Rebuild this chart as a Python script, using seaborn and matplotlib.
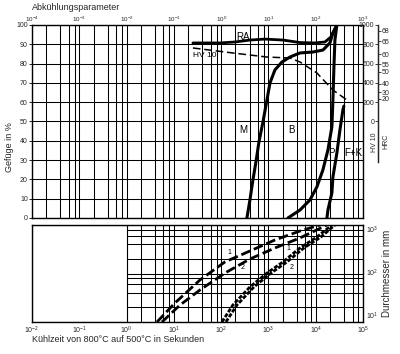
import matplotlib
matplotlib.use("Agg")
import matplotlib.pyplot as plt
import seaborn as sns
from matplotlib.ticker import LogLocator, FixedLocator, NullLocator, NullFormatter, FixedFormatter

sns.set_style("white")
plt.rcParams['font.family'] = ['Liberation Sans', 'DejaVu Sans']
plt.rcParams['mathtext.fontset'] = 'custom'
plt.rcParams['mathtext.rm'] = 'Liberation Sans'
plt.rcParams['mathtext.it'] = 'Liberation Sans'

# ---------------- data (cooling time t8/5 in s) ----------------
m_time = [351, 406, 470, 544, 630, 765, 929, 1076, 1371, 1928, 2849, 4634, 8730, 14200, 19950, 23100, 28000]
m_pct = [0, 9.3, 19.7, 29.0, 39.4, 49.7, 61.1, 69.9, 76.7, 80.8, 83.4, 85.5, 86.0, 87.0, 90.7, 95.9, 100]

ra_time = [25.3, 45.5, 94.4, 196, 406, 843, 2026, 4634, 9620, 15660, 20940, 28000]
ra_pct = [90.7, 90.7, 90.7, 91.2, 92.2, 92.7, 92.2, 90.9, 90.7, 91.2, 93.8, 100]

bp_time = [2584, 4634, 7530, 10590, 14190, 18110, 21990, 23100, 24280, 25470, 28000]
bp_pct = [0, 4.1, 9.3, 16.1, 24.9, 35.2, 47.2, 61.1, 78.2, 92.2, 100]

fk_time = [17270, 18110, 21990, 23100, 28050, 32500, 37600, 39400]
fk_pct = [0, 4.1, 13.0, 21.2, 33.7, 45.6, 56.0, 58.0]

hv_time = [25.3, 177, 929, 2849, 4634, 10590, 23100, 45700]
hv_val = [762, 710, 668, 658, 617, 503, 326, 223]

# diameter vs cooling time
d1_time = [4.39, 10.5, 35.6, 120, 406, 1371, 4634, 12270]
d1_mm = [10, 24.6, 73.5, 173, 291, 491, 751, 1000]
d2_time = [5.6, 13.5, 35.6, 120, 406, 1371, 4634, 17270]
d2_mm = [10, 22.4, 45.7, 102, 199, 336, 540, 1000]
e1_time = [104, 177, 406, 929, 2026, 4634, 10590, 21990]
e1_mm = [10, 22.4, 52.7, 102, 173, 336, 566, 1000]
e2_time = [126, 216, 493, 1130, 2460, 5620, 12880, 25470]
e2_mm = [10, 22.4, 52.7, 102, 173, 336, 566, 1000]

pct_ticks = [0, 10, 20, 30, 40, 50, 60, 70, 80, 90, 100]
hv_ticks = [0, 200, 400, 600, 800, 1000]
hrc_labels = [68, 65, 60, 55, 50, 40, 30, 20]
hrc_hv = [940, 832, 697, 595, 513, 392, 302, 238]
time_ticks = [1e-2, 1e-1, 1e0, 1e1, 1e2, 1e3, 1e4, 1e5]
time_labels = ['$10^{-2}$', '$10^{-1}$', '$10^{0}$', '$10^{1}$', '$10^{2}$', '$10^{3}$', '$10^{4}$', '$10^{5}$']
par_ticks = [1e-4, 1e-3, 1e-2, 1e-1, 1e0, 1e1, 1e2, 1e3]
par_labels = ['$10^{-4}$', '$10^{-3}$', '$10^{-2}$', '$10^{-1}$', '$10^{0}$', '$10^{1}$', '$10^{2}$', '$10^{3}$']
dia_ticks = [10, 100, 1000]
dia_labels = ['$10^{1}$', '$10^{2}$', '$10^{3}$']

K = 'black'
GRID_LW = 0.75
TICK_FS = 5

fig = plt.figure(figsize=(4, 3.54), dpi=100)
ax = fig.add_axes([0.08, 0.3842, 0.8275, 0.5452])
ax2 = fig.add_axes([0.08, 0.0904, 0.8275, 0.274])

# ---------------- main panel ----------------
ax.set_xscale('log')
ax.set_xlim(1e-2, 1e5)
ax.set_ylim(0, 100)
ax.xaxis.set_major_locator(FixedLocator(time_ticks))
ax.xaxis.set_minor_locator(LogLocator(base=10, subs=(2, 4, 6, 8)))
ax.xaxis.set_minor_formatter(NullFormatter())
ax.set_xticklabels([])
ax.set_yticks(pct_ticks)
ax.set_yticklabels([str(v) for v in pct_ticks])
ax.tick_params(axis='x', which='both', length=0)
ax.tick_params(axis='y', length=2, width=0.6, labelsize=TICK_FS, pad=1, color=K)
ax.grid(True, which='both', axis='x', color=K, lw=GRID_LW)
ax.grid(True, which='major', axis='y', color=K, lw=GRID_LW)
ax.set_axisbelow(True)
for s in ax.spines.values():
    s.set_color(K)
    s.set_linewidth(1.0)

sns.lineplot(x=ra_time, y=ra_pct, ax=ax, color=K, lw=2.0, sort=False, estimator=None)
sns.lineplot(x=m_time, y=m_pct, ax=ax, color=K, lw=2.2, sort=False, estimator=None)
sns.lineplot(x=bp_time, y=bp_pct, ax=ax, color=K, lw=2.2, sort=False, estimator=None)
sns.lineplot(x=fk_time, y=fk_pct, ax=ax, color=K, lw=2.2, sort=False, estimator=None)
ax.set_xlabel('')
ax.set_ylabel('')

# top axis (cooling parameter)
sec = ax.secondary_xaxis('top', functions=(lambda x: x / 100.0, lambda x: x * 100.0))
sec.xaxis.set_major_locator(FixedLocator(par_ticks))
sec.xaxis.set_major_formatter(FixedFormatter(par_labels))
sec.xaxis.set_minor_locator(NullLocator())
sec.tick_params(axis='x', which='both', length=0, labelsize=4.5, pad=1)
sec.spines['top'].set_visible(False)

# hardness axis HV10
ax_hv = ax.twinx()
ax_hv.set_ylim(-1000, 1000)
ax_hv.set_xlim(1e-2, 1e5)
sns.lineplot(x=hv_time, y=hv_val, ax=ax_hv, color=K, lw=1.1, linestyle=(0, (5, 2.5)), sort=False, estimator=None)
ax_hv.set_xlabel('')
ax_hv.set_ylabel('')
for name, s in ax_hv.spines.items():
    s.set_visible(False)
ax_hv.spines['left'].set_visible(True)
ax_hv.spines['left'].set_position(('axes', 1.045))
ax_hv.spines['left'].set_bounds(-420, 1000)
ax_hv.spines['left'].set_linewidth(0.9)
ax_hv.yaxis.set_ticks_position('left')
ax_hv.yaxis.set_label_position('left')
ax_hv.set_yticks(hv_ticks)
ax_hv.set_yticklabels([str(v) for v in hv_ticks])
ax_hv.tick_params(axis='y', length=2, width=0.6, labelsize=TICK_FS, pad=0.5)
ax_hv.tick_params(axis='x', which='both', length=0, labelbottom=False, labeltop=False)
ax_hv.grid(False)

# HRC axis
ax_hrc = ax.twinx()
ax_hrc.set_ylim(-1000, 1000)
for name, s in ax_hrc.spines.items():
    s.set_visible(False)
ax_hrc.spines['right'].set_visible(True)
ax_hrc.spines['right'].set_position(('axes', 1.045))
ax_hrc.spines['right'].set_bounds(-420, 1000)
ax_hrc.spines['right'].set_linewidth(0.9)
ax_hrc.set_yticks(hrc_hv)
ax_hrc.set_yticklabels([str(v) for v in hrc_labels])
ax_hrc.tick_params(axis='y', length=2, width=0.6, labelsize=TICK_FS, pad=0.8)
ax_hrc.tick_params(axis='x', which='both', length=0, labelbottom=False, labeltop=False)
ax_hrc.grid(False)

fig.text(375 / 400, 1 - 142 / 354, 'HV 10', rotation=90, fontsize=5, ha='center', va='center')
fig.text(386 / 400, 1 - 141 / 354, 'HRC', rotation=90, fontsize=5, ha='center', va='center')

# region labels
def lab(px, py, s, fs=7):
    ax.text((px - 32) / 331, (218 - py) / 193, s, transform=ax.transAxes,
            fontsize=fs, ha='center', va='center', color=K)

lab(243, 37, 'RA')
lab(205, 56, 'HV 10', fs=6)
lab(243, 130, 'M')
lab(291, 130, 'B')
lab(331, 153, 'P')
lab(353, 153, 'F+K')

# ---------------- bottom panel ----------------
ax2.set_xscale('log')
ax2.set_yscale('log')
ax2.set_xlim(1e-2, 1e5)
ax2.set_ylim(10, 1000)
ax2.xaxis.set_major_locator(FixedLocator(time_ticks))
ax2.xaxis.set_major_formatter(FixedFormatter(time_labels))
ax2.xaxis.set_minor_locator(LogLocator(base=10, subs=(2, 4, 6, 8)))
ax2.xaxis.set_minor_formatter(NullFormatter())
ax2.yaxis.set_major_locator(FixedLocator(dia_ticks))
ax2.yaxis.set_major_formatter(FixedFormatter(dia_labels))
ax2.yaxis.set_minor_locator(LogLocator(base=10, subs=(2, 4, 6, 8)))
ax2.yaxis.set_minor_formatter(NullFormatter())
ax2.yaxis.tick_right()
ax2.yaxis.set_label_position('right')
ax2.tick_params(axis='both', which='both', length=0, labelsize=TICK_FS, pad=2)
ax2.grid(True, which='both', axis='both', color=K, lw=GRID_LW)
ax2.set_axisbelow(True)
for s in ax2.spines.values():
    s.set_color(K)
    s.set_linewidth(1.0)
ax2.axvspan(1e-2, 1e0, facecolor='white', edgecolor=K, lw=0.8, zorder=1.6)

sns.lineplot(x=d1_time, y=d1_mm, ax=ax2, color=K, lw=2.0, linestyle=(0, (3.5, 1.4)), sort=False, estimator=None)
sns.lineplot(x=d2_time, y=d2_mm, ax=ax2, color=K, lw=2.0, linestyle=(0, (3.5, 1.4)), sort=False, estimator=None)
sns.lineplot(x=e1_time, y=e1_mm, ax=ax2, color=K, lw=2.0, linestyle=(0, (1.5, 0.6)), sort=False, estimator=None)
sns.lineplot(x=e2_time, y=e2_mm, ax=ax2, color=K, lw=2.0, linestyle=(0, (1.5, 0.6)), sort=False, estimator=None)
ax2.set_xlabel('')
ax2.set_ylabel('Durchmesser in mm', fontsize=7, labelpad=3)

fig.canvas.draw()
ylabs = ax2.get_yticklabels()
for lbl, va in zip(ylabs, ['bottom', 'center', 'top']):
    lbl.set_verticalalignment(va)

def lab2(px, py, s):
    ax2.text((px - 32) / 331, (322 - py) / 97, s, transform=ax2.transAxes,
             fontsize=5, ha='center', va='center', color=K)

lab2(229, 252, '1')
lab2(243, 267, '2')
lab2(288, 248, '1')
lab2(292, 267, '2')

# ---------------- figure texts ----------------
fig.text(32 / 400, 1 - 7 / 354, 'Abkühlungsparameter', fontsize=6.5, ha='left', va='center')
fig.text(10 / 400, 1 - 147 / 354, 'Gefüge in %', fontsize=6.5, rotation=90, ha='center', va='center')
fig.text(32 / 400, 1 - 340 / 354, 'Kühlzeit von 800°C auf 500°C in Sekunden', fontsize=6.5, ha='left', va='center')

fig.savefig('out.png', dpi=100)
